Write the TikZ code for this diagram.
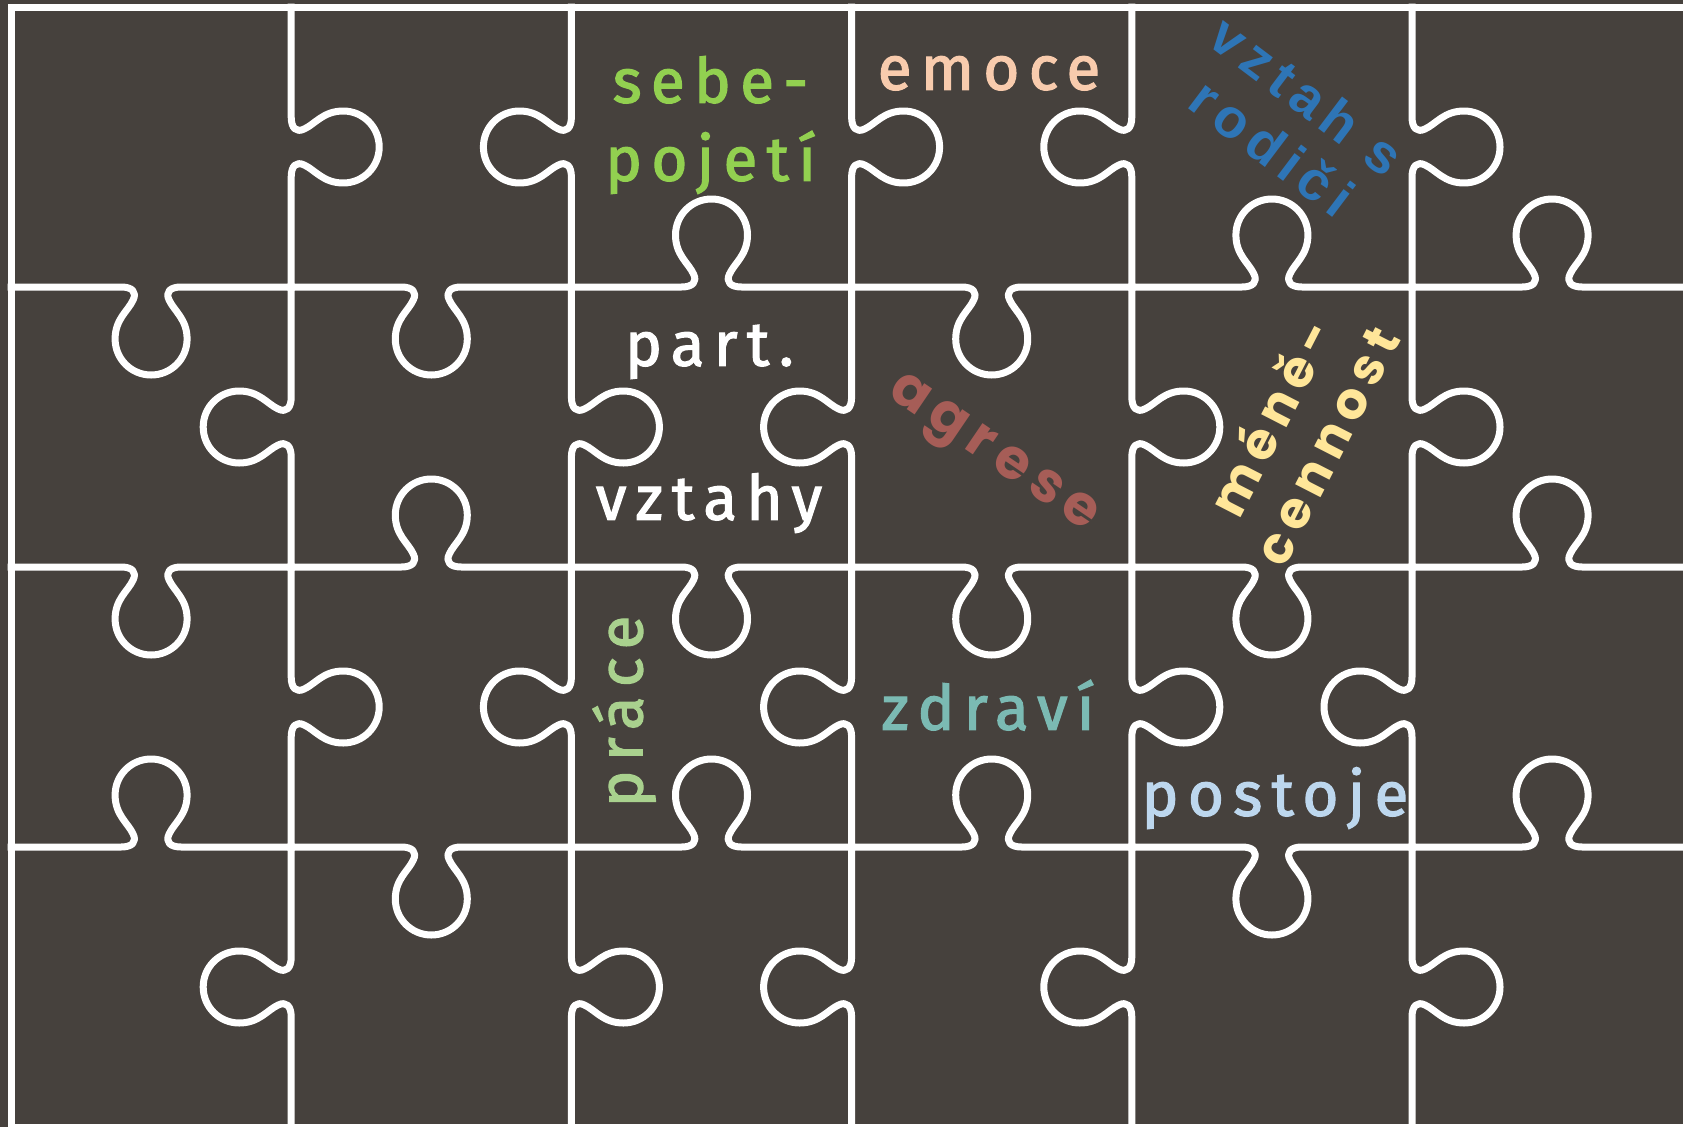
\documentclass[tikz,border=0pt]{standalone}
\usepackage{fontspec}
\setmainfont{Fira Sans}
\newfontfamily\dinfont{Fira Sans}[LetterSpace=15,FakeBold=2]
\newfontfamily\geofont{Poppins}[LetterSpace=15]
\newfontfamily\arfont{Liberation Sans}[LetterSpace=14]
\definecolor{bgc}{RGB}{70,65,61}
\definecolor{cgreen}{RGB}{146,208,80}
\definecolor{cpeach}{RGB}{248,203,173}
\definecolor{cblue}{RGB}{46,117,182}
\definecolor{cred}{RGB}{166,93,87}
\definecolor{cgold}{RGB}{255,230,153}
\definecolor{clgreen}{RGB}{169,209,142}
\definecolor{cteal}{RGB}{123,186,179}
\definecolor{clblue}{RGB}{189,215,238}
\tikzset{
  puz/.style={draw=white,line width=7pt,line cap=rect,line join=round},
  lbl/.style={anchor=mid,inner sep=0pt,font={\dinfont\fontsize{62}{62}\selectfont}},
  geolbl/.style={anchor=mid,inner sep=0pt,font={\geofont\bfseries\fontsize{54}{54}\selectfont}},
  arlbl/.style={anchor=mid,inner sep=0pt,font={\arfont\bfseries\fontsize{55}{55}\selectfont}}
}
% horizontal edge: x0, x1, y, d (+1 knob down, -1 knob up)
\newcommand\hedge[4]{%
  \begin{scope}[shift={({(#1+#2)/2},#3)},yscale=#4]
    \draw[puz] ({(#1-#2)/2},0) -- (-30,0) .. controls (-19,0) and (-14,5) .. (-18,13)
      .. controls (-23,24) and (-36,32) .. (-36,52)
      .. controls (-36,71.9) and (-19.9,88) .. (0,88)
      .. controls (19.9,88) and (36,71.9) .. (36,52)
      .. controls (36,32) and (23,24) .. (18,13)
      .. controls (14,5) and (19,0) .. (30,0) -- ({(#2-#1)/2},0);
  \end{scope}}
% vertical edge: y0, y1, x, d (+1 knob right, -1 knob left)
\newcommand\vedge[4]{%
  \begin{scope}[shift={(#3,{(#1+#2)/2})},xscale=#4]
    \draw[puz] (0,{(#1-#2)/2}) -- (0,-30) .. controls (0,-19) and (5,-14) .. (13,-18)
      .. controls (24,-23) and (32,-36) .. (52,-36)
      .. controls (71.9,-36) and (88,-19.9) .. (88,0)
      .. controls (88,19.9) and (71.9,36) .. (52,36)
      .. controls (32,36) and (24,23) .. (13,18)
      .. controls (5,14) and (0,19) .. (0,30) -- (0,{(#2-#1)/2});
  \end{scope}}
\begin{document}
\begin{tikzpicture}[x=1pt,y=-1pt]
\useasboundingbox (0,0) rectangle (1683,1127);
\clip (0,0) rectangle (1683,1127);
\fill[bgc] (0,0) rectangle (1683,1127);
% outer border
\draw[puz,line join=miter] (1700,7) -- (11,7) -- (11,1127) -- (1700,1127);
% vertical edges
\foreach \x/\da/\db/\dc/\dd in {291.2/1/-1/1/-1, 571.4/-1/1/-1/1, 851.6/1/-1/-1/-1, 1131.8/-1/1/1/-1, 1412/1/1/-1/1}{
  \vedge{7}{287}{\x}{\da}
  \vedge{287}{567}{\x}{\db}
  \vedge{567}{847}{\x}{\dc}
  \vedge{847}{1127}{\x}{\dd}
}
% horizontal edges
\foreach \y/\ca/\cb/\cc/\cd/\ce/\cf in {287/1/1/-1/1/-1/-1, 567/1/-1/1/1/1/-1, 847/-1/1/-1/-1/1/-1}{
  \hedge{11}{291.2}{\y}{\ca}
  \hedge{291.2}{571.4}{\y}{\cb}
  \hedge{571.4}{851.6}{\y}{\cc}
  \hedge{851.6}{1131.8}{\y}{\cd}
  \hedge{1131.8}{1412}{\y}{\ce}
  \hedge{1412}{1692.2}{\y}{\cf}
}
% labels
\node[lbl,text=cgreen] (sebe) at (710.5,100) {sebe-};
\node[lbl,text=cgreen] (pojeti) at (710.5,178) {pojetí};
\node[lbl,text=cpeach] (emoce) at (989,87) {emoce};
\node[lbl,text=white] (part) at (709.5,363) {part.};
\node[lbl,text=white] (vztahy) at (709,517) {vztahy};
\node[lbl,text=cteal] (zdravi) at (988,727) {zdraví};
\node[lbl,text=clblue] (postoje) at (1275,813) {postoje};
\node[lbl,text=clgreen,rotate=90] (prace) at (639.7,711.5) {práce};
\node[arlbl,text=cblue,rotate=-37] (vztahs) at (1297,109.4) {vztah s};
\node[arlbl,text=cblue,rotate=-37] (rodici) at (1262,161.4) {rodiči};
\node[geolbl,text=cred,rotate=-34.2,font={\geofont\bfseries\fontsize{56}{56}\selectfont}] (agrese) at (987.7,461.7) {agrese};
\node[geolbl,text=cgold,rotate=62.8,font={\geofont\bfseries\fontsize{51}{51}\selectfont}] (mene) at (1285.6,424.9) {méně-};
\node[geolbl,text=cgold,rotate=62.9,font={\geofont\bfseries\fontsize{51}{51}\selectfont}] (cennost) at (1340.6,452.9) {cennost};
\end{tikzpicture}
\end{document}
